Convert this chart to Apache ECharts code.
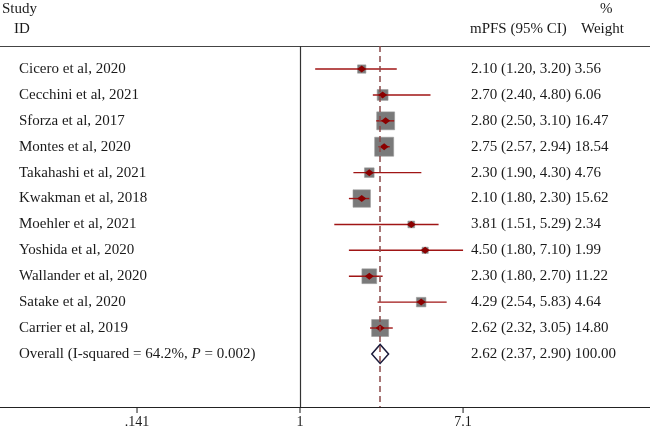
<!DOCTYPE html>
<html><head><meta charset="utf-8">
<script src="https://cdn.jsdelivr.net/npm/echarts@6/dist/echarts.min.js"></script>
<style>html,body{margin:0;padding:0;background:#fff}#c{width:650px;height:432px}</style>
</head><body><div id="c"></div>
<script>
const studies = ['Cicero et al, 2020','Cecchini et al, 2021','Sforza et al, 2017','Montes et al, 2020','Takahashi et al, 2021','Kwakman et al, 2018','Moehler et al, 2021','Yoshida et al, 2020','Wallander et al, 2020','Satake et al, 2020','Carrier et al, 2019'];
const mpfs    = [2.10, 2.70, 2.80, 2.75, 2.30, 2.10, 3.81, 4.50, 2.30, 4.29, 2.62];
const lower   = [1.20, 2.40, 2.50, 2.57, 1.90, 1.80, 1.51, 1.80, 1.80, 2.54, 2.32];
const upper   = [3.20, 4.80, 3.10, 2.94, 4.30, 2.30, 5.29, 7.10, 2.70, 5.83, 3.05];
const weights = [3.56, 6.06, 16.47, 18.54, 4.76, 15.62, 2.34, 1.99, 11.22, 4.64, 14.80];
const overallLabel = 'Overall (I-squared = 64.2%, {i|P} = 0.002)';
const overallEst = 2.62, overallLow = 2.37, overallHigh = 2.90, overallWeight = 100.00;
const tickValues = [0.141, 1, 7.1];
const tickLabels = ['.141', '1', '7.1'];

const FONT = '"Liberation Serif","DejaVu Serif",serif';
const FS = 15;
const TXT = '#1a1a1a';
const L = Math.log;
const fmt = v => v.toFixed(2);

const studyRows = studies.map((s, i) => [L(mpfs[i]), i, L(lower[i]), L(upper[i]), weights[i]]);
const overallRow = [[L(overallEst), studies.length, L(overallLow), L(overallHigh), overallWeight]];

const chart = echarts.init(document.getElementById('c'), null, {renderer: 'canvas'});
const xmin = -3.606, xmax = 4.207;
const ymin = -0.89, ymax = 13.05;
const tickLn = tickValues.map(L);

chart.setOption({
  animation: false,
  backgroundColor: '#fff',
  grid: {left: 0, right: 0, top: 46, bottom: 25},
  xAxis: [{
    type: 'value', min: xmin, max: xmax, position: 'bottom',
    splitLine: {show: false},
    axisLine: {show: true, onZero: false, lineStyle: {color: '#222', width: 1.2}},
    axisTick: {show: false},
    axisLabel: {show: true, customValues: tickLn, margin: 8, color: TXT, fontFamily: FONT, fontSize: 14,
      formatter: v => { let k = 0, d = 1e9; tickLn.forEach((t, j) => { if (Math.abs(t - v) < d) { d = Math.abs(t - v); k = j; } }); return tickLabels[k]; }}
  }, {
    type: 'value', min: xmin, max: xmax, position: 'top',
    splitLine: {show: false},
    axisLine: {show: true, onZero: false, lineStyle: {color: '#444', width: 1.2}},
    axisTick: {show: false}, axisLabel: {show: false}
  }],
  yAxis: {type: 'value', inverse: true, min: ymin, max: ymax, show: false},
  graphic: [
    {type: 'text', x: 2, y: 9, style: {text: 'Study', fontFamily: FONT, fontSize: FS, fill: TXT, verticalAlign: 'middle'}},
    {type: 'text', x: 14, y: 29, style: {text: 'ID', fontFamily: FONT, fontSize: FS, fill: TXT, verticalAlign: 'middle'}},
    {type: 'text', x: 600, y: 9, style: {text: '%', fontFamily: FONT, fontSize: FS, fill: TXT, verticalAlign: 'middle'}},
    {type: 'text', x: 470, y: 29, style: {text: 'mPFS (95% CI)', fontFamily: FONT, fontSize: FS, fill: TXT, verticalAlign: 'middle'}},
    {type: 'text', x: 581, y: 29, style: {text: 'Weight', fontFamily: FONT, fontSize: FS, fill: TXT, verticalAlign: 'middle'}}
  ],
  series: [{
    type: 'custom',
    data: studyRows,
    renderItem: (params, api) => {
      const i = api.value(1);
      const c = api.coord([api.value(0), i]);
      const lo = api.coord([api.value(2), i]);
      const hi = api.coord([api.value(3), i]);
      const side = 19 * Math.sqrt(api.value(4) / 18.54);
      return {type: 'group', children: [
        {type: 'rect', shape: {x: c[0] - side / 2, y: c[1] - side / 2, width: side, height: side}, style: {fill: '#7a7a7a', stroke: '#9a9a9a', lineWidth: 0.6}},
        {type: 'line', shape: {x1: lo[0], y1: c[1], x2: hi[0], y2: c[1]}, style: {stroke: '#a01515', lineWidth: 1.4}},
        {type: 'polygon', shape: {points: [[c[0] - 4.5, c[1]], [c[0], c[1] - 3.5], [c[0] + 4.5, c[1]], [c[0], c[1] + 3.5]]}, style: {fill: '#8b0000'}},
        {type: 'text', x: 19, y: c[1], style: {text: studies[i], fontFamily: FONT, fontSize: FS, fill: TXT, verticalAlign: 'middle'}},
        {type: 'text', x: 471, y: c[1], style: {text: fmt(mpfs[i]) + ' (' + fmt(lower[i]) + ', ' + fmt(upper[i]) + ') ' + fmt(weights[i]), fontFamily: FONT, fontSize: FS, fill: TXT, verticalAlign: 'middle'}}
      ]};
    },
    markLine: {
      silent: true, symbol: 'none', label: {show: false},
      data: [
        {xAxis: 0, lineStyle: {color: '#333', type: 'solid', width: 1.2}},
        {xAxis: L(overallEst), lineStyle: {color: '#8a4848', type: [6, 4], width: 1.5}}
      ]
    }
  }, {
    type: 'custom',
    data: overallRow,
    renderItem: (params, api) => {
      const i = api.value(1);
      const c = api.coord([api.value(0), i]);
      const lo = api.coord([api.value(2), i]);
      const hi = api.coord([api.value(3), i]);
      const h = 9.5;
      return {type: 'group', children: [
        {type: 'polygon', shape: {points: [[lo[0], c[1]], [c[0], c[1] - h], [hi[0], c[1]], [c[0], c[1] + h]]}, style: {fill: '#fff', stroke: '#1a1a3a', lineWidth: 1.5}},
        {type: 'text', x: 19, y: c[1], style: {text: overallLabel, rich: {i: {fontStyle: 'italic', fontFamily: FONT, fontSize: FS, fill: TXT}}, fontFamily: FONT, fontSize: FS, fill: TXT, verticalAlign: 'middle'}},
        {type: 'text', x: 471, y: c[1], style: {text: fmt(overallEst) + ' (' + fmt(overallLow) + ', ' + fmt(overallHigh) + ') ' + fmt(overallWeight), fontFamily: FONT, fontSize: FS, fill: TXT, verticalAlign: 'middle'}}
      ]};
    }
  }, {
    type: 'scatter',
    clip: false,
    silent: true,
    z: 10,
    symbol: 'rect',
    symbolSize: [1.3, 6],
    symbolOffset: [0, 3],
    itemStyle: {color: '#222'},
    data: tickLn.map(v => [v, ymax])
  }]
});
</script>
</body></html>
